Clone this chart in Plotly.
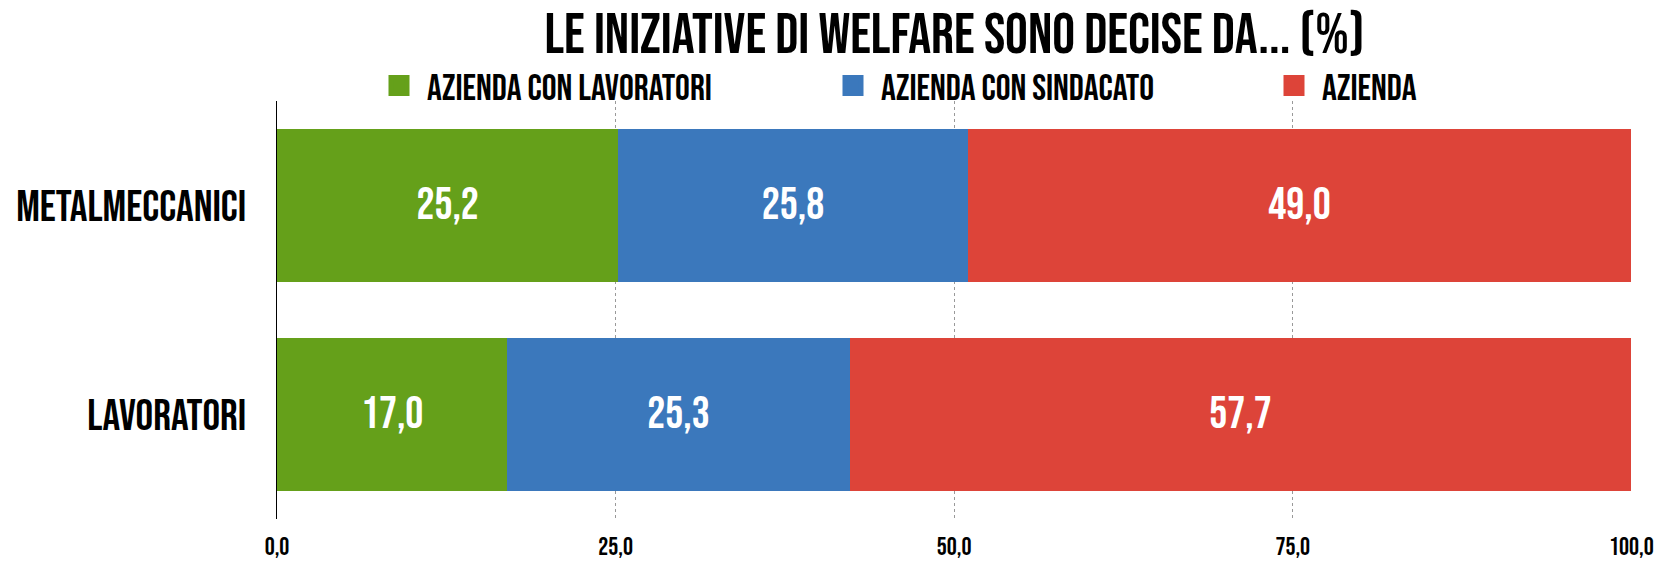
import plotly.graph_objects as go

categories = ["METALMECCANICI", "LAVORATORI"]
series_names = ["AZIENDA CON LAVORATORI", "AZIENDA CON SINDACATO", "AZIENDA"]
azienda_con_lavoratori = [25.2, 17.0]
azienda_con_sindacato = [25.8, 25.3]
azienda = [49.0, 57.7]
tick_values = [0, 25, 50, 75, 100]

colors = ["#65a01a", "#3b78bc", "#dd4439"]
legend_widths = [393, 380, 150]
FONT = "Bebas Neue, Oswald, Roboto Condensed, sans-serif"

W, H = 1656, 562

fig = go.Figure()
series = [azienda_con_lavoratori, azienda_con_sindacato, azienda]
for name, vals, col in zip(series_names, series, colors):
    fig.add_trace(go.Bar(
        y=categories, x=vals, name=name, orientation="h",
        marker=dict(color=col, line=dict(width=0)),
        texttemplate="%{x:.1f}", textposition="inside",
        insidetextanchor="middle",
        textfont=dict(family=FONT, size=45, color="white"),
        hoverinfo="skip", showlegend=False,
    ))
# legend entries (bigger square symbols than the bar legend glyph)
for name, col, lw in zip(series_names, colors, legend_widths):
    fig.add_trace(go.Scatter(
        x=[None], y=[None], mode="markers", name=name, legendwidth=lw,
        marker=dict(symbol="square", size=16, color=col, line=dict(color=col, width=5)),
        hoverinfo="skip", showlegend=True,
    ))

fig.update_layout(
    barmode="stack",
    bargap=0.27,
    width=W, height=H,
    margin=dict(l=277, r=24, t=101, b=43, autoexpand=False),
    plot_bgcolor="white", paper_bgcolor="white",
    separators=",.",
    font=dict(family=FONT, color="black"),
    title=dict(text="LE INIZIATIVE DI WELFARE SONO DECISE DA... (%)",
               x=0.5, xref="paper", xanchor="center",
               y=1 - 33 / H, yref="container", yanchor="middle",
               font=dict(family=FONT, size=57, color="black")),
    showlegend=True,
    legend=dict(orientation="h", xref="container", yref="container",
                x=371 / W, xanchor="left", y=1 - 86 / H, yanchor="middle",
                itemwidth=46, itemsizing="trace",
                font=dict(family=FONT, size=37, color="black"),
                traceorder="normal", bgcolor="rgba(0,0,0,0)"),
    uniformtext=dict(minsize=10, mode="show"),
)
fig.update_xaxes(range=[0, 100.05], tickvals=tick_values, tickformat=".1f",
                 showgrid=True, gridcolor="#999999", griddash="3px,3px", gridwidth=1,
                 zeroline=False, showline=False, ticks="", ticklabelstandoff=10,
                 ticklabeloverflow="allow", automargin=False,
                 tickfont=dict(family=FONT, size=25, color="black"),
                 fixedrange=True)
fig.update_yaxes(autorange="reversed", showline=True, linecolor="black", linewidth=1,
                 showgrid=False, ticks="", ticklabelstandoff=21, automargin=False,
                 tickfont=dict(family=FONT, size=44, color="black"),
                 fixedrange=True)

# remove the browser's default 8px body margin so the figure fills the window
fig.write_html("out.html", config={"displayModeBar": False},
               post_script="document.body.style.margin='0';")
